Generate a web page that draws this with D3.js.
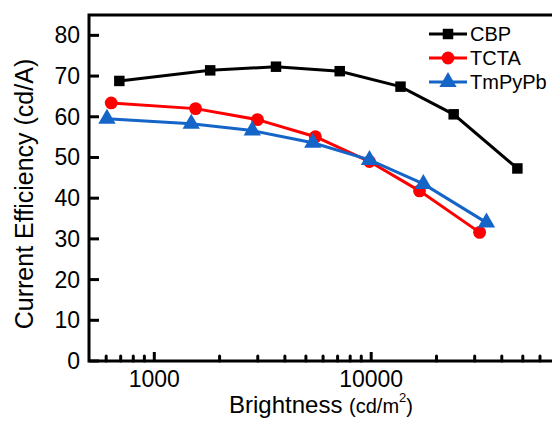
<!DOCTYPE html>
<html>
<head>
<meta charset="utf-8">
<script src="https://cdn.jsdelivr.net/npm/d3@7"></script>
<style>
  body { margin: 0; background: #fff; }
  text { font-family: "Liberation Sans", Arial, sans-serif; }
</style>
</head>
<body>
<div id="chart"></div>
<script>
// data
const cbpX = [690, 1810, 3640, 7160, 13650, 24000, 47200];
const cbpY = [68.8, 71.4, 72.3, 71.2, 67.4, 60.6, 47.3];
const tctaX = [633, 1550, 2990, 5530, 9820, 16700, 31600];
const tctaY = [63.4, 62.0, 59.3, 55.1, 49.0, 41.8, 31.6];
const tmpX = [605, 1480, 2830, 5380, 9820, 17400, 34000];
const tmpY = [59.5, 58.3, 56.6, 53.6, 49.4, 43.5, 34.0];
const seriesNames = ["CBP", "TCTA", "TmPyPb"];
const seriesColors = ["#000000", "#ff0000", "#1565c8"];
const yTicks = [0, 10, 20, 30, 40, 50, 60, 70, 80];
const xTicks = [1000, 10000];

const width = 552, height = 424;
const mLeft = 89, mTop = 15, mRight = 561, mBottom = 361;

const svg = d3.select("#chart").append("svg")
    .attr("width", width)
    .attr("height", height);

const x = d3.scaleLog().domain([500, 75000]).range([mLeft, mRight]);
const y = d3.scaleLinear().domain([0, 85]).range([mBottom, mTop]);

// frame
svg.append("rect")
    .attr("x", mLeft).attr("y", mTop)
    .attr("width", mRight - mLeft).attr("height", mBottom - mTop)
    .attr("fill", "none").attr("stroke", "#000").attr("stroke-width", 3);

// y axis ticks (inward)
svg.selectAll(".ytick").data(yTicks).join("line")
    .attr("x1", mLeft).attr("x2", mLeft + 10)
    .attr("y1", d => y(d)).attr("y2", d => y(d))
    .attr("stroke", "#000").attr("stroke-width", 3);
svg.selectAll(".ylab").data(yTicks).join("text")
    .attr("x", 80).attr("y", d => y(d))
    .attr("text-anchor", "end").attr("dominant-baseline", "central")
    .style("font-size", "23px")
    .text(d => d);

// x axis ticks
const minor = [];
[100, 1000, 10000].forEach(dec => {
    for (let k = 2; k <= 9; k++) {
        const v = dec * k;
        if (v > 500 && v < 75000) minor.push(v);
    }
});
svg.selectAll(".xminor").data(minor).join("line")
    .attr("x1", d => x(d)).attr("x2", d => x(d))
    .attr("y1", mBottom).attr("y2", mBottom - 5)
    .attr("stroke", "#000").attr("stroke-width", 3)
    .attr("stroke-linecap", "round");
svg.selectAll(".xmajor").data(xTicks).join("line")
    .attr("x1", d => x(d)).attr("x2", d => x(d))
    .attr("y1", mBottom).attr("y2", mBottom - 9)
    .attr("stroke", "#000").attr("stroke-width", 3);
svg.selectAll(".xlab").data(xTicks).join("text")
    .attr("x", d => x(d)).attr("y", 387)
    .attr("text-anchor", "middle")
    .style("font-size", "23px")
    .text(d => d);

// axis titles
const xt = svg.append("text")
    .attr("x", 321).attr("y", 413)
    .attr("text-anchor", "middle");
xt.append("tspan").style("font-size", "24px").text("Brightness ");
xt.append("tspan").style("font-size", "20px").text("(cd/m");
xt.append("tspan").style("font-size", "13px").attr("dy", -11).text("2");
xt.append("tspan").style("font-size", "20px").attr("dy", 11).text(")");

svg.append("text")
    .attr("transform", "translate(33,194) rotate(-90)")
    .attr("text-anchor", "middle")
    .style("font-size", "25px")
    .text("Current Efficiency (cd/A)");

// series
const series = [
    { xs: cbpX, ys: cbpY, sym: d3.symbolSquare, size: 110 },
    { xs: tctaX, ys: tctaY, sym: d3.symbolCircle, size: 130 },
    { xs: tmpX, ys: tmpY, sym: d3.symbolTriangle, size: 130 }
];
const line = d3.line().x(d => x(d[0])).y(d => y(d[1]));

series.forEach((s, i) => {
    const pts = s.xs.map((v, j) => [v, s.ys[j]]);
    svg.append("path")
        .attr("d", line(pts))
        .attr("fill", "none")
        .attr("stroke", seriesColors[i])
        .attr("stroke-width", 3);
    svg.selectAll(".m" + i).data(pts).join("path")
        .attr("transform", d => `translate(${x(d[0])},${y(d[1])})`)
        .attr("d", d3.symbol().type(s.sym).size(s.size))
        .attr("fill", seriesColors[i]);
});

// legend
const legend = svg.append("g");
seriesNames.forEach((name, i) => {
    const ly = 34 + i * 24;
    legend.append("line")
        .attr("x1", 429).attr("x2", 467)
        .attr("y1", ly).attr("y2", ly)
        .attr("stroke", seriesColors[i]).attr("stroke-width", 3);
    legend.append("path")
        .attr("transform", `translate(448,${ly})`)
        .attr("d", d3.symbol().type(series[i].sym).size(series[i].size))
        .attr("fill", seriesColors[i]);
    legend.append("text")
        .attr("x", 470).attr("y", ly)
        .attr("dominant-baseline", "central")
        .style("font-size", "20px")
        .text(name);
});
</script>
</body>
</html>
